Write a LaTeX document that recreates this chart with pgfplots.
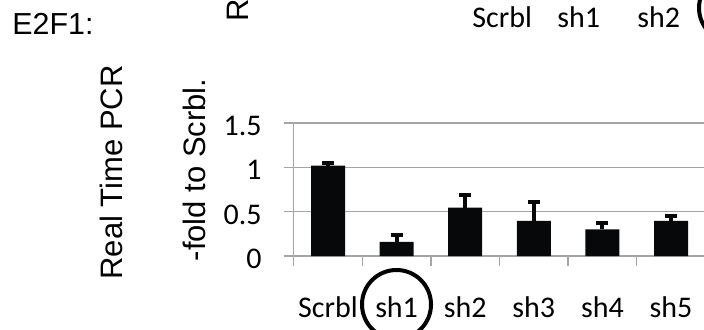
\documentclass[border=0pt]{standalone}
\usepackage{pgfplots}
\pgfplotsset{compat=1.18}
\usepackage{fontspec}
\setmainfont{Carlito}
\newfontfamily\arial{Liberation Sans}
\definecolor{gridgray}{RGB}{165,165,165}
\definecolor{barblack}{RGB}{6,8,10}
\pgfplotstableread{
x y e
0 1.02 0.032
1 0.16 0.080
2 0.545 0.147
3 0.395 0.210
4 0.30 0.068
5 0.395 0.052
}\datatable
\begin{document}
\begin{tikzpicture}[x=1pt,y=1pt]
\path[use as bounding box] (0,0) rectangle (352,-165);
\begin{axis}[
  at={(146.85pt,-128pt)}, anchor=south west,
  scale only axis, width=205.8pt, height=66.5pt,
  xmin=-0.5, xmax=5.5, ymin=0, ymax=1.5,
  ytick={0,0.5,1,1.5}, yticklabels={0,0.5,1,1.5},
  xtick={-0.5,0.5,...,5.5}, x tick label as interval,
  xticklabels={Scrbl,sh1,sh2,sh3,sh4,sh5},
  axis lines*=left,
  ymajorgrids, grid style={draw=gridgray, line width=0.75pt},
  axis line style={draw=gridgray, line width=0.75pt},
  tick style={draw=gridgray, line width=0.75pt},
  tick align=outside, major tick length=5pt,
  /pgf/number format/assume math mode=true,
  ticklabel style={font=\fontsize{15}{18}\selectfont, text=black},
  yticklabel style={xshift=-7.5pt, yshift=-1.5pt},
  xticklabel style={yshift=-12pt},
  clip=false,
]
\addplot[ybar, bar width=17pt, fill=barblack, draw=none,
  error bars/.cd, y dir=plus, y explicit,
  error bar style={line width=2pt, draw=barblack},
  error mark options={rotate=90, mark size=3pt, line width=2pt, draw=barblack}]
  table[x=x, y=y, y error=e] {\datatable};
\end{axis}
\node[font=\arial\fontsize{15.2}{18}\selectfont, anchor=base west, inner sep=0] at (6,-17.5) {E2F1:};
\node[rotate=90, anchor=base, inner sep=0, font=\arial\fontsize{15.5}{18}\selectfont] at (61,-86.25) {Real Time PCR};
\node[rotate=90, anchor=base, inner sep=0, font=\arial\fontsize{15.5}{18}\selectfont] at (102.5,-85) {-fold to Scrbl.};
\node[rotate=90, anchor=base west, inner sep=0, font=\arial\fontsize{15.5}{18}\selectfont] at (124,-11) {Real Time PCR};
\node[anchor=base west, inner sep=0, font=\fontsize{15}{18}\selectfont] at (236,-14) {Scrbl};
\node[anchor=base west, inner sep=0, font=\fontsize{15}{18}\selectfont] at (278.5,-14) {sh1};
\node[anchor=base west, inner sep=0, font=\fontsize{15}{18}\selectfont] at (318.5,-14) {sh2};
\begin{scope}
\clip (0,0) rectangle (352,-165);
\draw[line width=2pt] (366.5,-4) circle (17);
\draw[line width=2pt] (198.25,-152.25) circle (17.25);
\end{scope}
\end{tikzpicture}
\end{document}
